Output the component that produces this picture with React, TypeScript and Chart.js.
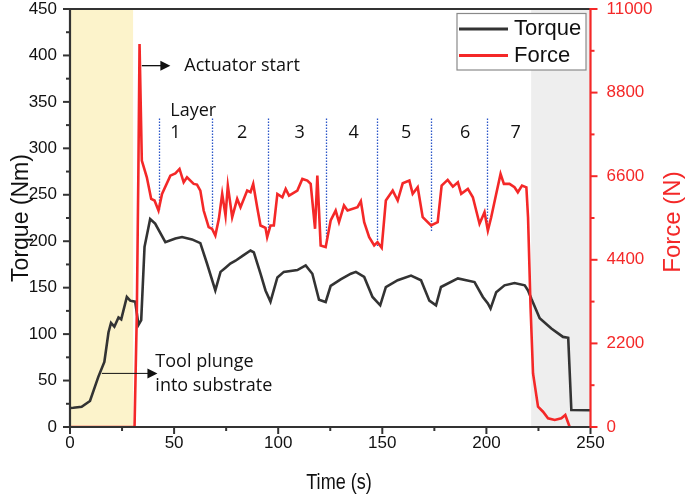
import React, { useEffect, useRef } from 'react';
import { Chart, registerables } from 'chart.js';

Chart.register(...registerables);

// ---------------- data ----------------
const torqueTime = [0, 1.6, 5.6, 9.6, 13.6, 16.5, 18.5, 19.7, 21.3, 23.3, 24.6, 27.3, 28.9, 31.3, 32.9, 34.2, 35.8, 38.5, 40.9, 45.8, 50.6, 53.8, 58.6, 62.6, 65.8, 69.8, 72.3, 74.7, 77, 79.5, 82.7, 86.7, 88.3, 91.5, 93.9, 96.3, 99.6, 102.7, 109.2, 113.2, 116.4, 119.6, 122.8, 125.2, 130, 134.9, 137.3, 141.3, 145.3, 149, 151.7, 157.4, 163.8, 168.6, 172.6, 175.8, 178.2, 186.3, 194.3, 198.3, 200.7, 202, 204.7, 208.7, 213.5, 218.4, 220, 221.6, 225.6, 231.2, 236.8, 239.3, 240.8, 250];
const torqueValues = [20.5, 20.7, 21.8, 28, 54, 70, 102, 112, 108, 118, 116, 140, 136, 135, 110, 115, 194, 224, 219, 199, 203, 204.5, 202, 198, 176, 147, 167, 171.5, 176, 179, 184, 190, 188, 165, 147, 135, 161, 167, 169, 174, 165, 137, 134.6, 152, 159, 165, 167, 161.5, 140, 131, 150.7, 158, 163, 158, 136, 131, 150.7, 160, 156, 140, 133, 127.5, 145, 152.5, 155, 152.5, 147, 138, 117, 106, 97, 96, 18.3, 18];

const forceTime = [0, 31, 32.1, 32.8, 33.4, 34.5, 36.9, 39, 40.6, 42.5, 44.2, 48.2, 50.6, 52.6, 54.6, 56.2, 59.4, 61, 62.6, 64.2, 66.6, 68.2, 69.8, 71.5, 73.1, 74.7, 75.8, 77.9, 80.3, 81.9, 85.1, 86.7, 88, 89.9, 91.5, 93.9, 94.7, 96.3, 97.9, 99.6, 102, 103.6, 105.2, 109.2, 111.6, 114, 115.6, 117.7, 118.8, 120.4, 122.8, 125.2, 127.6, 129.2, 131.6, 133.3, 138.1, 139.7, 141.3, 143.7, 146.1, 147.7, 149.7, 151.7, 155, 157.4, 159.8, 163, 164.6, 167, 169.4, 173.4, 176.6, 178.5, 181.4, 183.9, 186.3, 187.9, 191.1, 193.5, 195.1, 196.7, 199.1, 200.7, 202.3, 204.7, 206.8, 208.4, 211.1, 213.5, 215.1, 217.1, 219.2, 220, 221.2, 222.4, 224.8, 227.2, 229.6, 232.8, 236, 237.9, 240];
const forceValues = [0, 0, 3000, 6500, 10080, 7009, 6571, 6003, 5959, 5696, 6134, 6615, 6676, 6791, 6440, 6571, 6397, 6379, 6221, 5696, 5258, 5216, 5040, 5478, 6134, 5565, 6353, 5521, 6003, 5783, 6221, 6177, 6397, 5783, 5303, 5242, 4996, 5303, 5303, 6134, 6046, 6266, 6090, 6221, 6528, 6484, 6397, 5216, 6615, 4778, 4733, 5434, 5696, 5390, 5828, 5696, 5783, 5941, 5390, 4996, 4778, 4865, 4717, 5959, 6221, 5959, 6413, 6484, 6134, 6308, 5521, 5303, 5390, 6353, 6502, 6326, 6440, 6134, 6266, 6046, 5696, 5347, 5652, 5171, 5521, 6134, 6660, 6397, 6397, 6308, 6177, 6353, 6308, 5521, 3158, 1409, 533, 402, 228, 184, 228, 315, 0];

const layerLineTimes = [42.8, 68.2, 95, 122.8, 147.4, 173.4, 200.2];
const layerLineBottoms = [233, 215, 213, 201, 194, 210, 218];
const layerLineTop = 332;
const layerLabels = ['1', '2', '3', '4', '5', '6', '7'];
const layerLabelTimes = [50.6, 82.7, 110.3, 136.2, 161.4, 189.8, 214];

const plungeRange = [0, 30.3];
const coolRange = [221.5, 250];

const xMax = 250;
const torqueMax = 450;
const forceMax = 11000;

// ---------------- styles ----------------
const RED = 'rgb(244,40,40)';
const DARK = '#333333';
const TICK_FONT = { family: 'Liberation Sans', size: 17 };
const ANNOT_FONT = '18px "Open Sans"';

function arrow(ctx: CanvasRenderingContext2D, x0: number, y0: number, x1: number, y1: number) {
  ctx.beginPath();
  ctx.moveTo(x0, y0);
  ctx.lineTo(x1 - 9, y1);
  ctx.stroke();
  ctx.beginPath();
  ctx.moveTo(x1, y1);
  ctx.lineTo(x1 - 10, y1 - 5);
  ctx.lineTo(x1 - 10, y1 + 5);
  ctx.closePath();
  ctx.fill();
}

const customPlugin = {
  id: 'customDecor',
  beforeDraw(chart: any) {
    const { ctx, chartArea: a, scales } = chart;
    const x = scales.x;
    ctx.save();
    ctx.fillStyle = '#FCF3CB';
    let p0 = x.getPixelForValue(plungeRange[0]);
    let p1 = x.getPixelForValue(plungeRange[1]);
    ctx.fillRect(p0, a.top, p1 - p0, a.bottom - a.top);
    ctx.fillStyle = '#EEEEEE';
    p0 = x.getPixelForValue(coolRange[0]);
    p1 = x.getPixelForValue(coolRange[1]);
    ctx.fillRect(p0, a.top, p1 - p0, a.bottom - a.top);
    ctx.restore();
  },
  beforeDatasetsDraw(chart: any) {
    const { ctx, scales } = chart;
    const x = scales.x, y = scales.y;
    ctx.save();
    ctx.strokeStyle = '#2a55c8';
    ctx.lineWidth = 1.3;
    ctx.setLineDash([1.3, 1.7]);
    layerLineTimes.forEach((t, i) => {
      const px = Math.round(x.getPixelForValue(t)) + 0.5;
      ctx.beginPath();
      ctx.moveTo(px, y.getPixelForValue(layerLineTop));
      ctx.lineTo(px, y.getPixelForValue(layerLineBottoms[i]));
      ctx.stroke();
    });
    ctx.restore();
  },
  afterDraw(chart: any) {
    const { ctx, chartArea: a, scales } = chart;
    const x = scales.x, y = scales.y, y1 = scales.y1;
    ctx.save();
    // axis lines
    ctx.lineWidth = 2.2;
    ctx.strokeStyle = DARK;
    ctx.beginPath();
    ctx.moveTo(a.left, a.top);
    ctx.lineTo(a.right, a.top);
    ctx.moveTo(a.left, a.top);
    ctx.lineTo(a.left, a.bottom);
    ctx.moveTo(a.left, a.bottom);
    ctx.lineTo(a.right, a.bottom);
    ctx.stroke();
    // ticks left
    ctx.lineWidth = 2;
    for (let v = 0; v <= torqueMax; v += 25) {
      const py = y.getPixelForValue(v);
      const len = v % 50 === 0 ? 7 : 4;
      ctx.beginPath();
      ctx.moveTo(a.left - len, py);
      ctx.lineTo(a.left, py);
      ctx.stroke();
    }
    // ticks bottom
    for (let v = 0; v <= xMax; v += 25) {
      const px = x.getPixelForValue(v);
      const len = v % 50 === 0 ? 7 : 4;
      ctx.beginPath();
      ctx.moveTo(px, a.bottom);
      ctx.lineTo(px, a.bottom + len);
      ctx.stroke();
    }
    // right axis
    ctx.strokeStyle = RED;
    ctx.lineWidth = 2.2;
    ctx.beginPath();
    ctx.moveTo(a.right, a.top - 1);
    ctx.lineTo(a.right, a.bottom + 1);
    ctx.stroke();
    ctx.lineWidth = 2;
    for (let v = 0; v <= forceMax; v += 1100) {
      const py = y1.getPixelForValue(v);
      const len = (v / 1100) % 2 === 0 ? 7 : 4;
      ctx.beginPath();
      ctx.moveTo(a.right, py);
      ctx.lineTo(a.right + len, py);
      ctx.stroke();
    }

    // axis titles
    ctx.textAlign = 'center';
    ctx.textBaseline = 'middle';
    ctx.fillStyle = '#111';
    ctx.save();
    ctx.font = '22px "Liberation Sans"';
    ctx.translate(339, 483);
    ctx.scale(0.82, 1);
    ctx.fillText('Time (s)', 0, 0);
    ctx.restore();
    ctx.save();
    ctx.font = '23px "Liberation Sans"';
    ctx.translate(22, 218);
    ctx.rotate(-Math.PI / 2);
    ctx.fillText('Torque (Nm)', 0, 0);
    ctx.restore();
    ctx.save();
    ctx.font = '24px "Liberation Sans"';
    ctx.fillStyle = RED;
    ctx.translate(673, 222);
    ctx.rotate(-Math.PI / 2);
    ctx.fillText('Force (N)', 0, 0);
    ctx.restore();

    // annotations
    ctx.fillStyle = '#111';
    ctx.strokeStyle = '#111';
    ctx.lineWidth = 1.3;
    ctx.font = ANNOT_FONT;
    ctx.textAlign = 'left';
    ctx.textBaseline = 'middle';
    const ay = y.getPixelForValue(389);
    arrow(ctx, x.getPixelForValue(34.5), ay, x.getPixelForValue(48.2), ay);
    ctx.fillText('Actuator start', x.getPixelForValue(54.9), ay);

    ctx.lineWidth = 1;
    const ty = y.getPixelForValue(57.7);
    arrow(ctx, x.getPixelForValue(15.3), ty, x.getPixelForValue(42), ty);
    ctx.fillText('Tool plunge', x.getPixelForValue(41), y.getPixelForValue(70.5));
    ctx.fillText('into substrate', x.getPixelForValue(41), y.getPixelForValue(44.5));

    ctx.textAlign = 'center';
    ctx.fillText('Layer', x.getPixelForValue(59.2), y.getPixelForValue(340.5));
    layerLabels.forEach((lab, i) => {
      ctx.fillText(lab, x.getPixelForValue(layerLabelTimes[i]), y.getPixelForValue(317));
    });

    // legend
    const lx = 457, ly = 13.5, lw = 129, lh = 56.5;
    ctx.fillStyle = '#ffffff';
    ctx.fillRect(lx, ly, lw, lh);
    ctx.strokeStyle = '#8a8a8a';
    ctx.lineWidth = 1.2;
    ctx.strokeRect(lx, ly, lw, lh);
    ctx.lineWidth = 2.8;
    ctx.strokeStyle = DARK;
    ctx.beginPath();
    ctx.moveTo(459, 29);
    ctx.lineTo(508, 29);
    ctx.stroke();
    ctx.strokeStyle = RED;
    ctx.beginPath();
    ctx.moveTo(459, 55.5);
    ctx.lineTo(508, 55.5);
    ctx.stroke();
    ctx.fillStyle = '#111';
    ctx.font = '22px "Liberation Sans"';
    ctx.textAlign = 'left';
    ctx.fillText('Torque', 514, 29);
    ctx.fillText('Force', 514, 55.5);
    ctx.restore();
  },
};

export default function App() {
  const ref = useRef<HTMLCanvasElement | null>(null);
  useEffect(() => {
    if (!ref.current) return;
    const chart = new Chart(ref.current, {
      type: 'line',
      data: {
        datasets: [
          {
            label: 'Torque',
            data: torqueTime.map((t, i) => ({ x: t, y: torqueValues[i] })),
            borderColor: DARK,
            borderWidth: 2.6,
            pointRadius: 0,
            yAxisID: 'y',
            order: 1,
          },
          {
            label: 'Force',
            data: forceTime.map((t, i) => ({ x: t, y: forceValues[i] })),
            borderColor: RED,
            borderWidth: 2.6,
            pointRadius: 0,
            yAxisID: 'y1',
            order: 0,
          },
        ],
      },
      options: {
        animation: false,
        responsive: false,
        maintainAspectRatio: false,
        layout: { padding: { top: 9, left: 0, right: 0, bottom: 0 } },
        plugins: { legend: { display: false }, tooltip: { enabled: false } },
        scales: {
          x: {
            type: 'linear',
            min: 0,
            max: xMax,
            grid: { display: false, drawTicks: false },
            border: { display: false },
            ticks: { stepSize: 50, color: '#111', font: TICK_FONT, padding: 6, maxRotation: 0, callback: (v: any) => String(v) },
            afterFit: (s: any) => { s.height = 69; s.paddingLeft = 0; s.paddingRight = 0; },
          },
          y: {
            type: 'linear',
            position: 'left',
            min: 0,
            max: torqueMax,
            grid: { display: false, drawTicks: false },
            border: { display: false },
            ticks: { stepSize: 50, color: '#111', font: TICK_FONT, padding: 13, callback: (v: any) => String(v) },
            afterFit: (s: any) => { s.width = 70; s.paddingTop = 0; s.paddingBottom = 0; },
          },
          y1: {
            type: 'linear',
            position: 'right',
            min: 0,
            max: forceMax,
            grid: { display: false, drawTicks: false },
            border: { display: false },
            ticks: { stepSize: 2200, color: RED, font: TICK_FONT, padding: 16, callback: (v: any) => String(v) },
            afterFit: (s: any) => { s.width = 94.5; s.paddingTop = 0; s.paddingBottom = 0; },
          },
        },
      },
      plugins: [customPlugin],
    });
    return () => chart.destroy();
  }, []);
  return (
    <div style={{ position: 'absolute', left: 0, top: 0, width: 685, height: 496, background: '#fff' }}>
      <canvas ref={ref} width={685} height={496} style={{ display: 'block' }} />
    </div>
  );
}
